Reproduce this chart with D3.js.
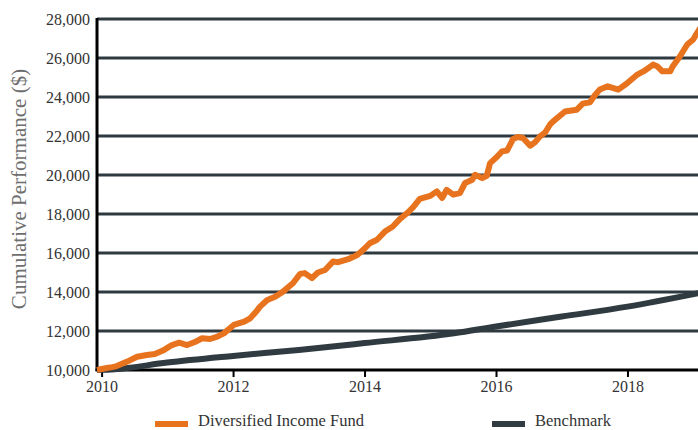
<!DOCTYPE html>
<html>
<head>
<meta charset="utf-8">
<script src="https://cdn.jsdelivr.net/npm/d3@7"></script>
<style>
  html, body { margin: 0; padding: 0; background: #fff; }
  svg { display: block; }
</style>
</head>
<body>
<svg id="chart" width="698" height="430"></svg>
<script>
// ---- data (decimal years, $ values) ----
const fundDates = [2009.93, 2010.08, 2010.16, 2010.23, 2010.39, 2010.54, 2010.69, 2010.81, 2010.95,
  2011.07, 2011.18, 2011.30, 2011.41, 2011.53, 2011.65, 2011.76, 2011.86, 2012.01, 2012.17, 2012.26,
  2012.36, 2012.41, 2012.52, 2012.64, 2012.76, 2012.91, 2013.02, 2013.09, 2013.20, 2013.29, 2013.40,
  2013.52, 2013.60, 2013.75, 2013.89, 2013.98, 2014.08, 2014.19, 2014.31, 2014.43, 2014.54, 2014.65,
  2014.74, 2014.84, 2015.00, 2015.10, 2015.18, 2015.25, 2015.35, 2015.45, 2015.53, 2015.64, 2015.68,
  2015.79, 2015.86, 2015.91, 2016.02, 2016.09, 2016.17, 2016.26, 2016.33, 2016.41, 2016.52, 2016.59,
  2016.67, 2016.75, 2016.82, 2016.87, 2017.05, 2017.23, 2017.32, 2017.43, 2017.51, 2017.58, 2017.70,
  2017.86, 2017.99, 2018.15, 2018.27, 2018.39, 2018.45, 2018.53, 2018.65, 2018.69, 2018.80, 2018.91,
  2019.00, 2019.06, 2019.12];
const fundValues = [10000, 10100, 10150, 10200, 10430, 10680, 10770, 10820, 11030,
  11280, 11400, 11280, 11420, 11630, 11590, 11710, 11880, 12310, 12480, 12650,
  13030, 13250, 13590, 13760, 14020, 14450, 14930, 14970, 14710, 15000, 15130,
  15560, 15530, 15680, 15900, 16160, 16500, 16680, 17100, 17360, 17750, 18050,
  18350, 18770, 18930, 19160, 18820, 19240, 18990, 19070, 19590, 19760, 20010,
  19840, 19960, 20610, 20950, 21210, 21260, 21850, 21950, 21900, 21500, 21670,
  21980, 22190, 22580, 22750, 23260, 23350, 23660, 23730, 24120, 24380, 24550,
  24380, 24690, 25150, 25370, 25660, 25580, 25320, 25320, 25580, 26090, 26690,
  26950, 27290, 27600];
const benchDates = [2009.93, 2010.2, 2011, 2012, 2013, 2014, 2015.36, 2016, 2017, 2018, 2019.12];
const benchValues = [10000, 10040, 10380, 10720, 11030, 11380, 11880, 12230, 12740, 13250, 13970];
const yTicks = [10000, 12000, 14000, 16000, 18000, 20000, 22000, 24000, 26000, 28000];
const xTicks = [2010, 2012, 2014, 2016, 2018];
const seriesNames = ["Diversified Income Fund", "Benchmark"];
const seriesColors = ["#E8731F", "#2F3B41"];

// ---- layout ----
const svg = d3.select("#chart");
const mLeft = 97, mRight = 698, mTop = 19, mBottom = 370;
const x = d3.scaleLinear().domain([2009.93, 2019.073]).range([mLeft, mRight]);
const y = d3.scaleLinear().domain([10000, 28000]).range([mBottom, mTop]);
const font = "'Liberation Serif', 'Times New Roman', serif";

svg.append("defs").append("clipPath").attr("id", "clip")
  .append("rect").attr("x", mLeft - 5).attr("y", 0).attr("width", mRight - mLeft + 5).attr("height", mBottom + 10);

// gridlines
svg.append("g").selectAll("line").data(yTicks.filter(d => d > 10000)).join("line")
  .attr("x1", mLeft).attr("x2", mRight)
  .attr("y1", d => y(d)).attr("y2", d => y(d))
  .attr("stroke", "#2E3A40").attr("stroke-width", 3);

// y axis
const yAxis = svg.append("g").attr("transform", `translate(${mLeft},0)`)
  .call(d3.axisLeft(y).tickValues(yTicks).tickSize(0).tickPadding(7).tickFormat(d3.format(",")));
yAxis.select(".domain").remove();
yAxis.selectAll("text").attr("font-family", font).attr("font-size", 16).attr("fill", "#333")
  .attr("dy", "0.33em");
svg.append("line").attr("x1", mLeft).attr("x2", mLeft).attr("y1", mTop - 1).attr("y2", mBottom + 1)
  .attr("stroke", "#000").attr("stroke-width", 3);

// x axis
const xAxis = svg.append("g").attr("transform", `translate(0,${mBottom})`)
  .call(d3.axisBottom(x).tickValues(xTicks).tickSize(7).tickPadding(4).tickFormat(d3.format("d")));
xAxis.select(".domain").remove();
xAxis.selectAll(".tick line").attr("stroke", "#000").attr("stroke-width", 2);
xAxis.selectAll("text").attr("font-family", font).attr("font-size", 16).attr("fill", "#333");
svg.append("line").attr("x1", mLeft - 1.5).attr("x2", mRight).attr("y1", mBottom).attr("y2", mBottom)
  .attr("stroke", "#000").attr("stroke-width", 3);

// lines
const g = svg.append("g").attr("clip-path", "url(#clip)");
g.append("path").datum(benchDates.map((d, i) => [d, benchValues[i]]))
  .attr("d", d3.line().x(d => x(d[0])).y(d => y(d[1])).curve(d3.curveMonotoneX))
  .attr("fill", "none").attr("stroke", seriesColors[1]).attr("stroke-width", 6);
g.append("path").datum(fundDates.map((d, i) => [d, fundValues[i]]))
  .attr("d", d3.line().x(d => x(d[0])).y(d => y(d[1])))
  .attr("fill", "none").attr("stroke", seriesColors[0]).attr("stroke-width", 6)
  .attr("stroke-linejoin", "round");

// y title
svg.append("text").attr("transform", "translate(26,189) rotate(-90)")
  .attr("text-anchor", "middle").attr("font-family", font).attr("font-size", 21)
  .attr("fill", "#6E6E6E").text("Cumulative Performance ($)");

// legend
const legendX = [155, 492];
const lg = svg.append("g").selectAll("g").data(seriesNames).join("g")
  .attr("transform", (d, i) => `translate(${legendX[i]},0)`);
lg.append("rect").attr("x", 0).attr("y", 421).attr("width", 33).attr("height", 6)
  .attr("fill", (d, i) => seriesColors[i]);
lg.append("text").attr("x", 43).attr("y", 426).attr("font-family", font).attr("font-size", 16.5)
  .attr("fill", "#333").text(d => d);
</script>
</body>
</html>
